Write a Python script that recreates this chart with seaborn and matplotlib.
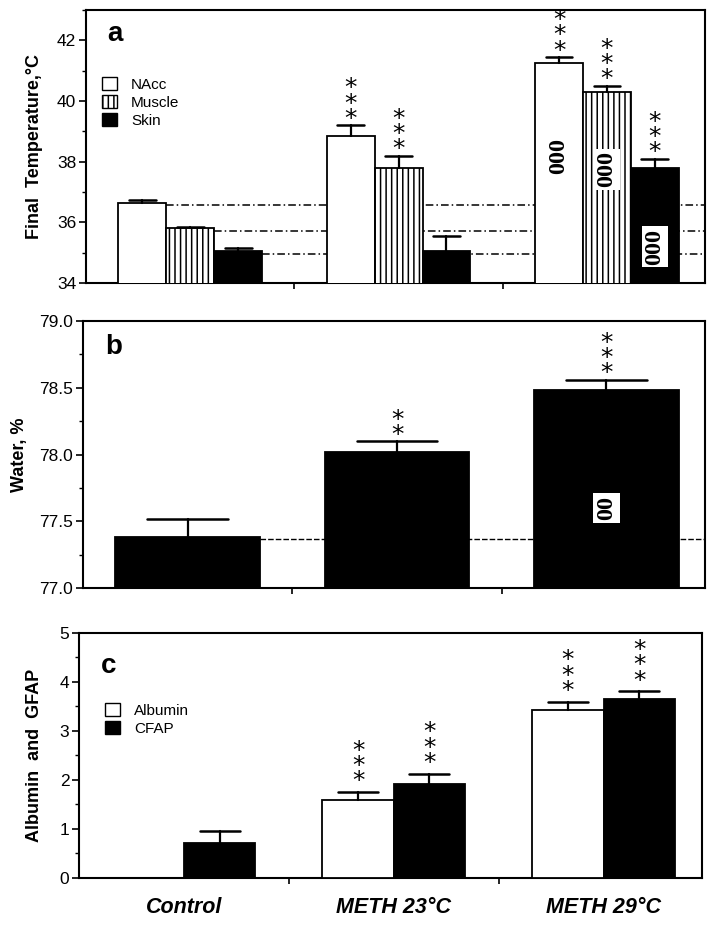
import numpy as np
import pandas as pd
import seaborn as sns
import matplotlib.pyplot as plt
from matplotlib.patches import Patch
from matplotlib.ticker import MultipleLocator, FixedLocator

# values
groups = ["Control", "METH 23\u00b0C", "METH 29\u00b0C"]

regions = ["NAcc", "Muscle", "Skin"]
nacc = [36.65, 38.85, 41.25]
nacc_err = [0.10, 0.35, 0.20]
muscle = [35.80, 37.80, 40.30]
muscle_err = [0.05, 0.40, 0.20]
skin = [35.05, 35.05, 37.80]
skin_err = [0.10, 0.50, 0.30]
temp_stars = [[0, 3, 3], [0, 3, 3], [0, 0, 3]]
temp_rings = [[0, 0, 3], [0, 0, 3], [0, 0, 3]]

water = [77.38, 78.02, 78.48]
water_err = [0.14, 0.08, 0.08]
water_stars = [0, 2, 3]
water_rings = [0, 0, 2]

proteins = ["Albumin", "CFAP"]
albumin = [0.0, 1.59, 3.42]
albumin_err = [0.0, 0.17, 0.18]
gfap = [0.72, 1.92, 3.65]
gfap_err = [0.23, 0.21, 0.16]
prot_stars = [[0, 3, 3], [0, 3, 3]]


def long_df(names, series):
    rows = []
    for name, vals in zip(names, series):
        for g, v in zip(groups, vals):
            rows.append({"group": g, "kind": name, "value": v})
    return pd.DataFrame(rows)


def add_errs(ax, bars, errs):
    for b, e in zip(bars, errs):
        if e <= 0:
            continue
        x = b.get_x() + b.get_width() / 2
        top = b.get_height()
        cw = b.get_width() * 0.28
        ax.plot([x, x], [top, top + e], color="black", lw=1.6, zorder=4)
        ax.plot([x - cw, x + cw], [top + e, top + e], color="black", lw=1.8, zorder=4)


# stacked asterisks above the error bar, one text per bar
def add_stars(ax, bars, errs, counts, gap=-4):
    for b, e, n in zip(bars, errs, counts):
        if n == 0:
            continue
        x = b.get_x() + b.get_width() / 2
        ax.annotate("\n".join(["*"] * n), (x, b.get_height() + e), xytext=(0, gap),
                    textcoords="offset points", ha="center", va="bottom",
                    fontsize=18, linespacing=0.54, annotation_clip=False, zorder=5,
                    family="DejaVu Sans")


def add_rings(ax, bars, counts, ys, boxed):
    for b, n, y, bx in zip(bars, counts, ys, boxed):
        if n == 0:
            continue
        x = b.get_x() + b.get_width() / 2
        kw = {}
        if bx:
            kw["bbox"] = dict(facecolor="white", edgecolor="none", pad=2)
        ax.text(x, y, "0" * n, rotation=90, ha="center", va="center",
                fontsize=17.5, fontweight="bold", family="Liberation Serif",
                zorder=5, **kw)


def style_axis(ax):
    for s in ax.spines.values():
        s.set_linewidth(1.5)
        s.set_color("black")
    ax.set_xlim(-0.5, 2.47)
    ax.xaxis.set_major_locator(FixedLocator([0.5, 1.5]))
    ax.tick_params(axis="x", which="major", direction="out", length=4, width=1.2,
                   labelbottom=False)
    ax.tick_params(axis="y", which="major", direction="out", length=5, width=1.2,
                   labelsize=12.5, pad=2)
    ax.tick_params(axis="y", which="minor", direction="out", length=3, width=1.0)
    ax.set_xlabel("")


def legend(ax, handles, anchor):
    ax.legend(handles=handles, loc="upper left", bbox_to_anchor=anchor, frameon=False,
              fontsize=11, handlelength=0.95, handleheight=0.95, handletextpad=0.95,
              labelspacing=0.2, borderaxespad=0, borderpad=0)


sns.set_style("ticks")
plt.rcParams["font.family"] = ["Liberation Sans", "DejaVu Sans"]
plt.rcParams["hatch.linewidth"] = 1.1
for k in ["text.color", "axes.labelcolor", "xtick.color", "ytick.color"]:
    plt.rcParams[k] = "black"

fig = plt.figure(figsize=(7.13, 9.46), dpi=100)
ax_a = fig.add_axes([0.1206, 0.7008, 0.868, 0.2886])
ax_b = fig.add_axes([0.1164, 0.3784, 0.872, 0.2822])
ax_c = fig.add_axes([0.1108, 0.0719, 0.874, 0.2590])

# ---- panel a
df_a = long_df(regions, [nacc, muscle, skin])
sns.barplot(data=df_a, x="group", y="value", hue="kind", order=groups,
            hue_order=regions, palette={"NAcc": "white", "Muscle": "white", "Skin": "black"},
            saturation=1, width=0.69, edgecolor="black", linewidth=1.3,
            errorbar=None, legend=False, ax=ax_a, zorder=3)
ax_a.set_ylim(34, 43)
ax_a.yaxis.set_major_locator(MultipleLocator(2))
ax_a.yaxis.set_minor_locator(MultipleLocator(1))
for b in ax_a.containers[1]:
    b.set_hatch("|||")

errs_a = [nacc_err, muscle_err, skin_err]
ring_y = [38.2, 37.75, 35.2]
for i, cont in enumerate(ax_a.containers):
    add_errs(ax_a, cont, errs_a[i])
    add_stars(ax_a, cont, errs_a[i], temp_stars[i])
    add_rings(ax_a, cont, temp_rings[i], [ring_y[i]] * 3, [False, True, True] if i else [False] * 3)
    # reference line from control bar top across the panel
    cb = cont[0]
    ax_a.plot([cb.get_x() + cb.get_width(), 2.47], [cb.get_height() - 0.08] * 2,
              color="black", lw=1.1, ls=(0, (5, 2, 1, 2)), zorder=2)

legend(ax_a, [Patch(facecolor="white", edgecolor="black", label="NAcc"),
              Patch(facecolor="white", edgecolor="black", hatch="|||", label="Muscle"),
              Patch(facecolor="black", edgecolor="black", label="Skin")], (0.026, 0.755))
ax_a.text(0.035, 0.96, "a", transform=ax_a.transAxes, fontsize=20, fontweight="bold",
          va="top")
style_axis(ax_a)
ax_a.set_ylabel("Final  Temperature,\u00b0C", fontsize=13, fontweight="bold", labelpad=10)

# ---- panel b
df_b = pd.DataFrame({"group": groups, "value": water})
sns.barplot(data=df_b, x="group", y="value", order=groups, color="black", saturation=1,
            width=0.69, edgecolor="black", linewidth=1.3, errorbar=None, ax=ax_b, zorder=3)
ax_b.set_ylim(77, 79)
ax_b.yaxis.set_major_locator(MultipleLocator(0.5))
ax_b.yaxis.set_minor_locator(MultipleLocator(0.25))
ax_b.yaxis.set_major_formatter(plt.FormatStrFormatter("%.1f"))
bars_b = ax_b.containers[0]
add_errs(ax_b, bars_b, water_err)
add_stars(ax_b, bars_b, water_err, water_stars)
add_rings(ax_b, bars_b, water_rings, [77.6] * 3, [True] * 3)
cb = bars_b[0]
ax_b.plot([cb.get_x() + cb.get_width(), 2.47], [cb.get_height() - 0.01] * 2,
          color="black", lw=1.0, ls=(0, (4, 1.5)), zorder=2)
ax_b.text(0.035, 0.95, "b", transform=ax_b.transAxes, fontsize=20, fontweight="bold",
          va="top")
style_axis(ax_b)
ax_b.set_ylabel("Water, %", fontsize=13, fontweight="bold", labelpad=8)

# ---- panel c
df_c = long_df(proteins, [albumin, gfap])
sns.barplot(data=df_c, x="group", y="value", hue="kind", order=groups,
            hue_order=proteins, palette={"Albumin": "white", "CFAP": "black"},
            saturation=1, width=0.68, edgecolor="black", linewidth=1.3,
            errorbar=None, legend=False, ax=ax_c, zorder=3)
ax_c.set_ylim(0, 5)
ax_c.yaxis.set_major_locator(MultipleLocator(1))
ax_c.yaxis.set_minor_locator(MultipleLocator(0.5))
errs_c = [albumin_err, gfap_err]
for i, cont in enumerate(ax_c.containers):
    add_errs(ax_c, cont, errs_c[i])
    add_stars(ax_c, cont, errs_c[i], prot_stars[i], gap=-1)
legend(ax_c, [Patch(facecolor="white", edgecolor="black", label="Albumin"),
              Patch(facecolor="black", edgecolor="black", label="CFAP")], (0.042, 0.715))
ax_c.text(0.035, 0.92, "c", transform=ax_c.transAxes, fontsize=20, fontweight="bold",
          va="top")
style_axis(ax_c)
ax_c.set_ylabel("Albumin  and  GFAP", fontsize=13, fontweight="bold", labelpad=12)
ax_c.xaxis.set_minor_locator(FixedLocator([0, 1, 2]))
ax_c.xaxis.set_minor_formatter(plt.FixedFormatter(groups))
ax_c.tick_params(axis="x", which="minor", length=0, pad=14, labelsize=15.5)
for t in ax_c.xaxis.get_minorticklabels():
    t.set_fontweight("bold")
    t.set_fontstyle("italic")

fig.savefig("out.png", dpi=100)
